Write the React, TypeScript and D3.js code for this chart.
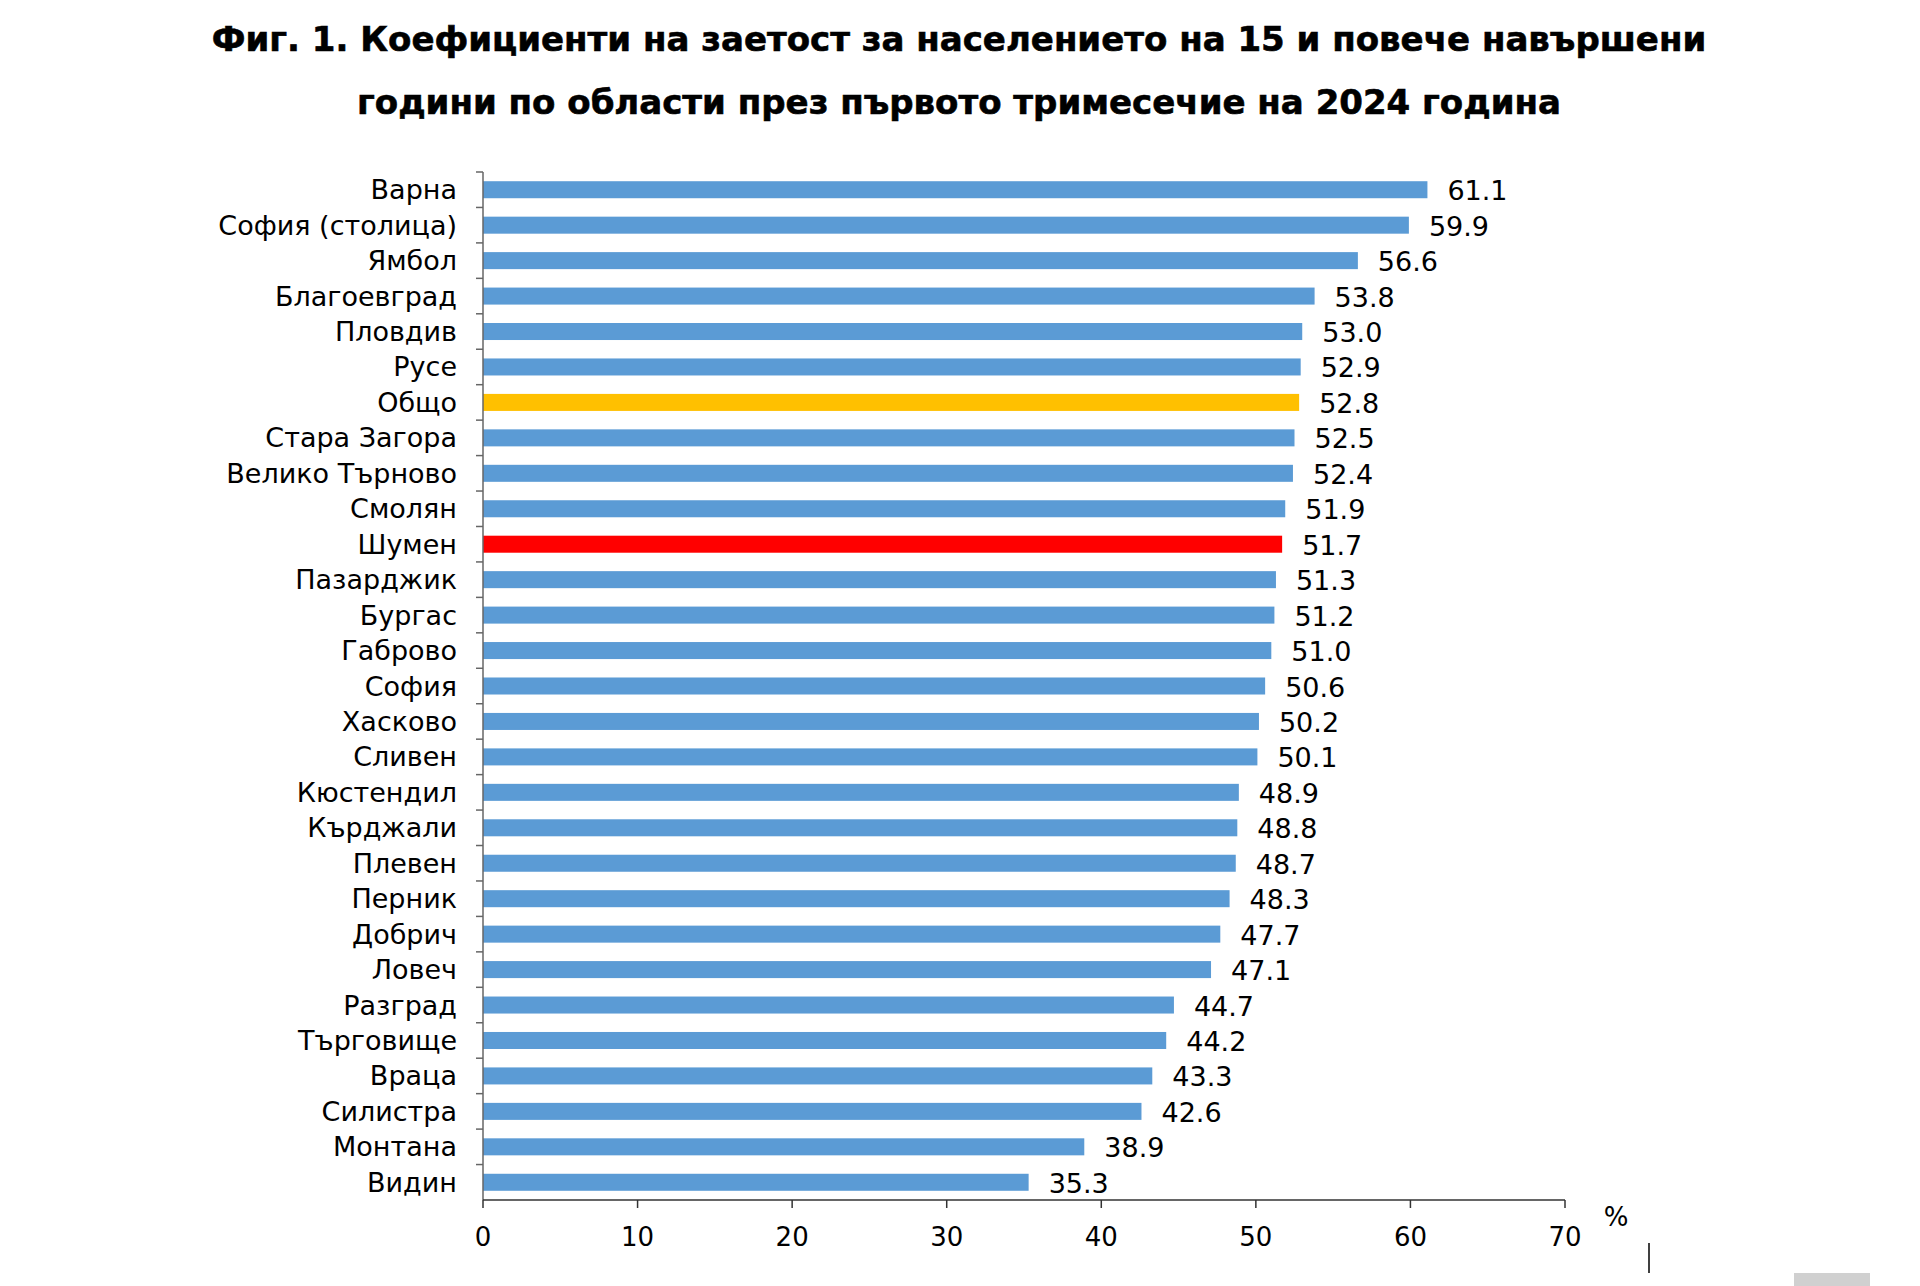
import React from "react";
import * as d3 from "d3";

const regions = ["Варна","София (столица)","Ямбол","Благоевград","Пловдив","Русе","Общо","Стара Загора","Велико Търново","Смолян","Шумен","Пазарджик","Бургас","Габрово","София","Хасково","Сливен","Кюстендил","Кърджали","Плевен","Перник","Добрич","Ловеч","Разград","Търговище","Враца","Силистра","Монтана","Видин"];
const values = [61.1,59.9,56.6,53.8,53.0,52.9,52.8,52.5,52.4,51.9,51.7,51.3,51.2,51.0,50.6,50.2,50.1,48.9,48.8,48.7,48.3,47.7,47.1,44.7,44.2,43.3,42.6,38.9,35.3];
const xTicks = [0,10,20,30,40,50,60,70];
const titleLines = ["Фиг. 1. Коефициенти на заетост за населението на 15 и повече навършени","години по области през първото тримесечие на 2024 година"];

const W = 1920, H = 1286;
const left = 483, right = 1565, top = 172, bottom = 1200;

export default function App() {
  const x = d3.scaleLinear().domain([0, 70]).range([left, right]);
  const y = d3.scaleBand<string>().domain(regions).range([top, bottom]).paddingInner(0.52).paddingOuter(0.26);
  const band = d3.scaleBand<string>().domain(regions).range([top, bottom]);
  const colorOf = (r: string) => r === "Общо" ? "#FFC000" : r === "Шумен" ? "#FF0000" : "#5B9BD5";
  const font = "Verdana, 'DejaVu Sans', sans-serif";
  return (
    <svg width={W} height={H} style={{ position: "absolute", left: 0, top: 0, background: "#fff" }} fontFamily={font}>
      <rect x={0} y={0} width={W} height={H} fill="#fff" />
      {titleLines.map((t, i) => (
        <text key={i} x={959} y={39 + i * 62.6} textAnchor="middle" dominantBaseline="central" fontWeight="bold" fontSize={34} fill="#000" stroke="#000" strokeWidth={0.6}>{t}</text>
      ))}
      {regions.map((r, i) => (
        <g key={r}>
          <rect x={x(0)} y={y(r)!} width={x(values[i]) - x(0)} height={y.bandwidth()} fill={colorOf(r)} />
          <text x={x(values[i]) + 20} y={y(r)! + y.bandwidth() / 2 + 1} dominantBaseline="central" fontSize={27} fill="#000">{values[i].toFixed(1)}</text>
          <text x={457} y={y(r)! + y.bandwidth() / 2} textAnchor="end" dominantBaseline="central" fontSize={27} fill="#000">{r}</text>
        </g>
      ))}
      {regions.map((r) => (
        <line key={"t" + r} x1={left - 7} x2={left} y1={band(r)!} y2={band(r)!} stroke="#666" strokeWidth={1.5} />
      ))}
      <line x1={left} x2={left} y1={top} y2={bottom} stroke="#666" strokeWidth={1.5} />
      <line x1={left} x2={right} y1={bottom} y2={bottom} stroke="#333" strokeWidth={1.5} />
      {xTicks.map((t) => (
        <g key={t}>
          <line x1={x(t)} x2={x(t)} y1={bottom} y2={bottom + 8} stroke="#333" strokeWidth={1.5} />
          <text x={x(t)} y={1237} textAnchor="middle" dominantBaseline="central" fontSize={26} fill="#000">{t}</text>
        </g>
      ))}
      <text x={1616} y={1217} textAnchor="middle" dominantBaseline="central" fontSize={26} fill="#000">%</text>
      <line x1={1649} x2={1649} y1={1243} y2={1273} stroke="#000" strokeWidth={1.5} />
      <rect x={1794} y={1273} width={76} height={13} fill="#d0d0d0" />
    </svg>
  );
}
